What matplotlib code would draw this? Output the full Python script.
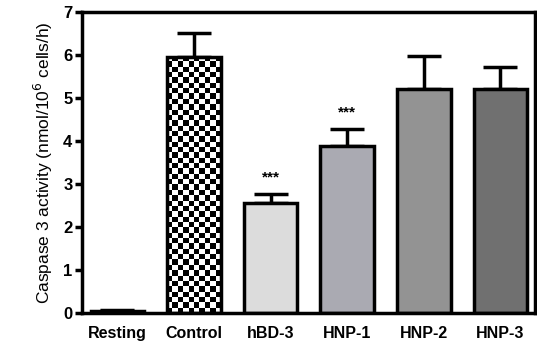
import numpy as np
import matplotlib.pyplot as plt
from matplotlib.colors import ListedColormap

labels = ["Resting", "Control", "hBD-3", "HNP-1", "HNP-2", "HNP-3"]
values = [0.05, 5.95, 2.56, 3.88, 5.2, 5.2]
errors = [0.03, 0.57, 0.2, 0.4, 0.77, 0.52]
colors = ["white", "none", "#dcdcdc", "#aaaab2", "#939393", "#707070"]
stars = ["", "", "***", "***", "", ""]

plt.rcParams['font.family'] = ['Liberation Sans', 'DejaVu Sans']

fig = plt.figure(figsize=(5.37, 3.49), dpi=100)
ax = fig.add_axes([0.153, 0.103, 0.843, 0.863])

x = np.arange(len(labels))
bars = ax.bar(x, values, width=0.7, color=colors, edgecolor="black", linewidth=2.5, zorder=2)
ax.errorbar(x, values, yerr=[np.zeros(len(values)), errors], fmt="none", ecolor="black",
            elinewidth=2.5, capsize=12, capthick=2.5, zorder=1)

# checkerboard fill for the Control bar
b = bars[1]
nx, ny = 10, 48
checker = (np.add.outer(np.arange(ny), np.arange(nx)) % 2).astype(float)
bx, bw, bh = b.get_x(), b.get_width(), b.get_height()
im = ax.imshow(checker, cmap=ListedColormap(["white", "black"]), extent=[bx, bx + bw, 0, bh],
               aspect="auto", interpolation="nearest", zorder=1.5)
im.set_clip_path(b)

for i, s in enumerate(stars):
    if s:
        ax.text(x[i], values[i] + errors[i] + 0.22, s, ha="center", va="bottom",
                fontsize=11, fontweight="bold")

ax.set_xlim(-0.46, 5.45)
ax.set_ylim(0, 7)
ax.set_yticks(range(8))
ax.set_xticks(x)
ax.set_xticklabels(labels, fontsize=11.5, fontweight="bold")
ax.tick_params(axis="y", labelsize=12, width=2.5, length=5, pad=2)
for t in ax.get_yticklabels():
    t.set_fontweight("bold")
ax.tick_params(axis="x", length=0, pad=9)
for sp in ax.spines.values():
    sp.set_linewidth(2.5)
ax.set_ylabel("Caspase 3 activity (nmol/10$^6$ cells/h)", fontsize=12.5, labelpad=6)

fig.savefig("out.png", dpi=100)
